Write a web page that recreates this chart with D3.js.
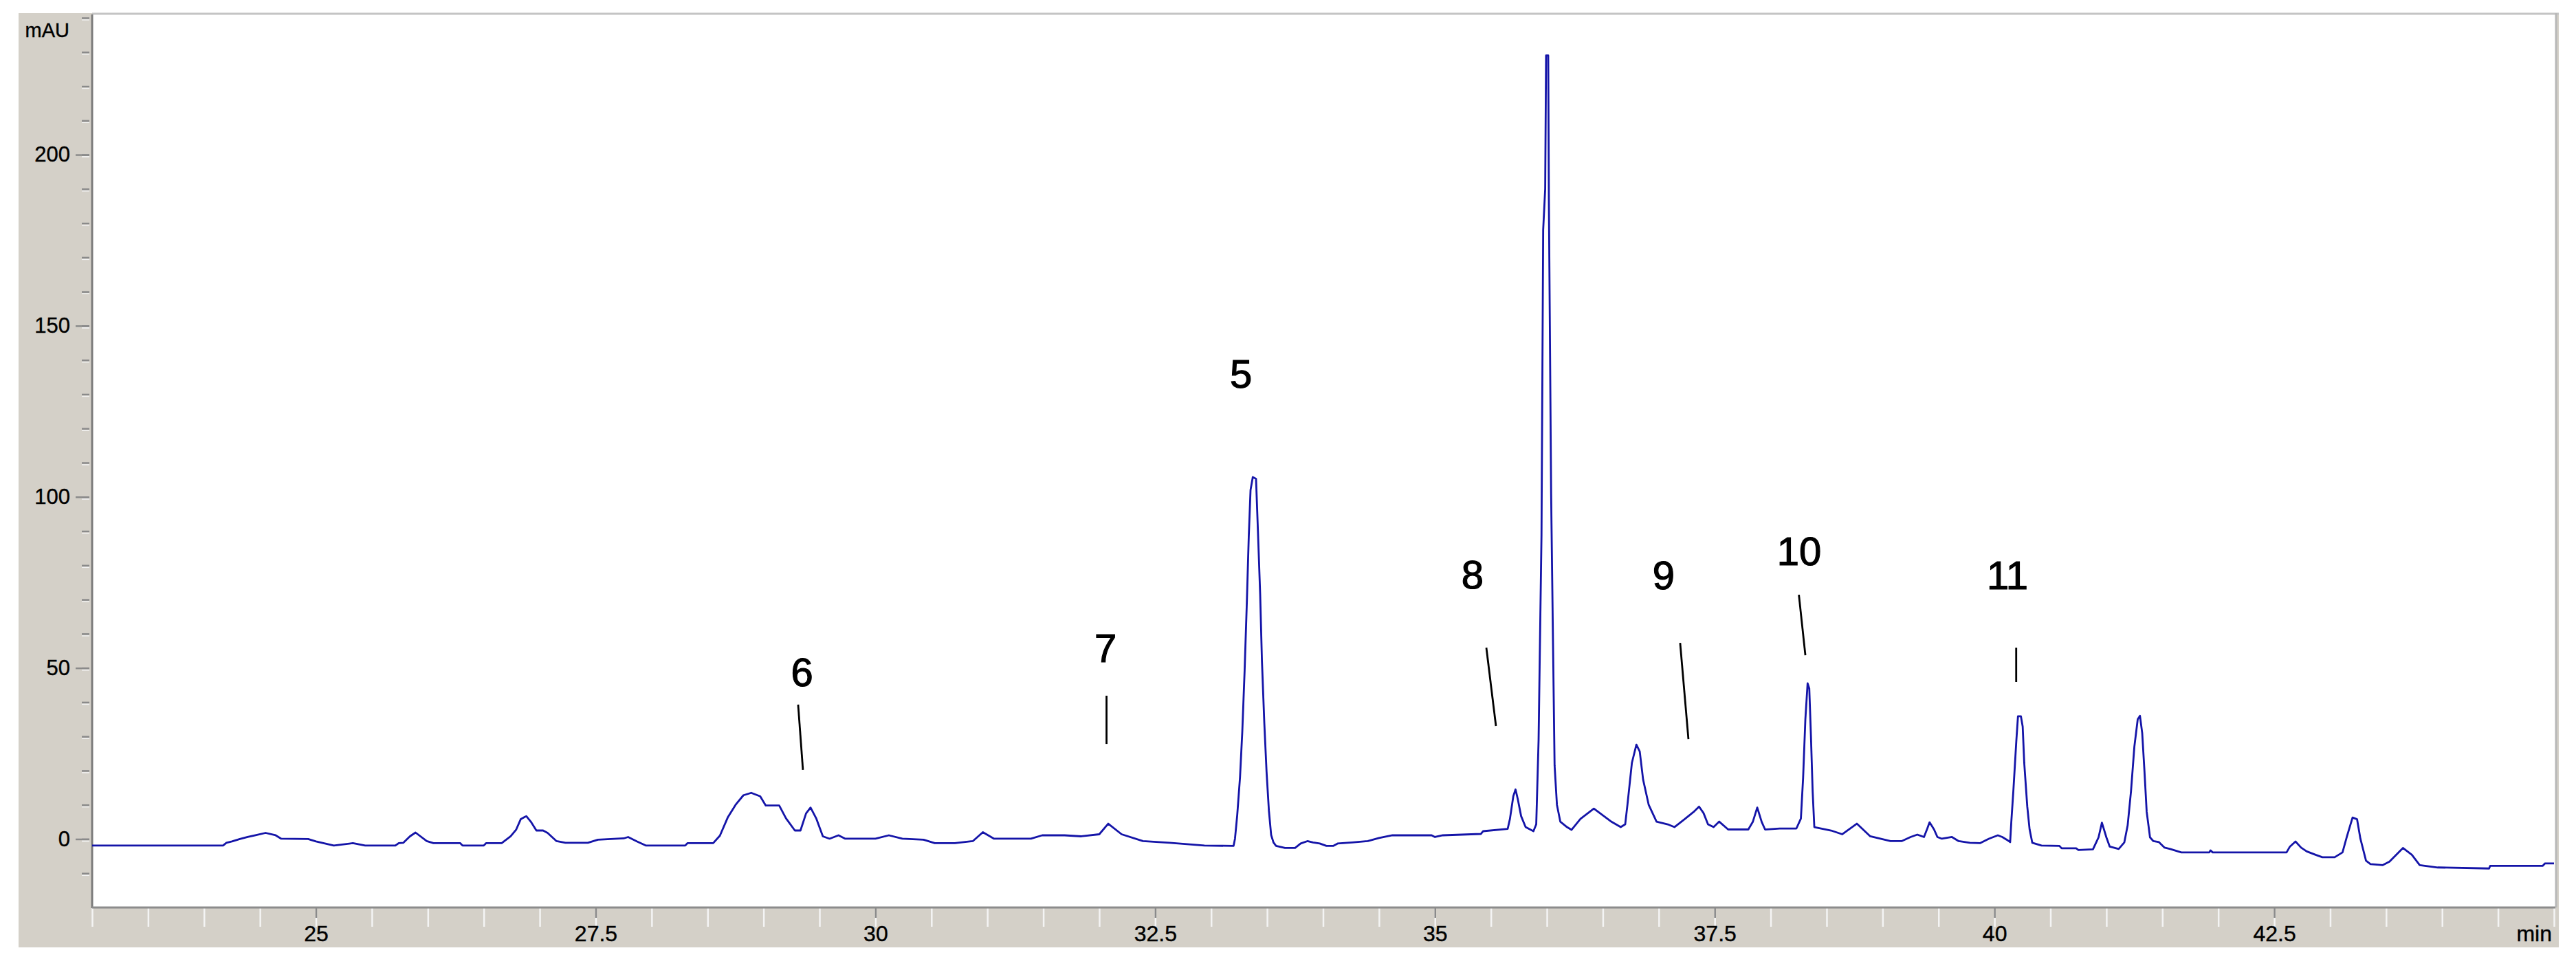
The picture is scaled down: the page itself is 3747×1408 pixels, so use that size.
<!DOCTYPE html>
<html><head><meta charset="utf-8">
<script src="https://cdn.jsdelivr.net/npm/d3@7"></script>
<style>
body{margin:0;background:#fff}
svg{display:block}
text{font-family:"Liberation Sans",Arial,sans-serif}
</style>
</head><body>
<svg id="chart" width="3747" height="1408"></svg>
<script>
// Retention time (min)
const time = [
23.00,24.17,24.20,24.25,24.32,24.39,24.46,24.55,24.64,24.69,24.93,25.00,25.16,25.33,25.44,25.71,25.74,25.78,25.84,25.89,
25.99,26.05,26.29,26.31,26.50,26.52,26.66,26.74,26.79,26.83,26.88,26.92,26.97,27.03,27.07,27.15,27.23,27.43,27.52,27.75,
27.79,27.87,27.95,28.30,28.32,28.55,28.61,28.68,28.75,28.82,28.89,28.97,29.02,29.14,29.20,29.28,29.33,29.38,29.42,29.47,
29.53,29.59,29.67,29.73,30.00,30.12,30.24,30.43,30.53,30.71,30.87,30.96,31.06,31.39,31.49,31.69,31.84,32.00,32.08,32.20,
32.39,32.63,32.94,33.20,33.213,33.233,33.258,33.278,33.299,33.319,33.336,33.352,33.372,33.401,33.418,33.438,33.454,33.475,33.495,33.516,
33.536,33.557,33.58,33.66,33.75,33.80,33.86,33.91,33.97,34.03,34.09,34.13,34.26,34.40,34.50,34.62,34.97,35.00,35.07,35.41,
35.43,35.65,35.67,35.70,35.72,35.74,35.77,35.81,35.88,35.905,35.926,35.952,35.967,35.985,35.993,36.012,36.018,36.038,36.055,36.069,
36.09,36.12,36.18,36.22,36.30,36.42,36.51,36.58,36.66,36.70,36.72,36.76,36.80,36.83,36.86,36.91,36.98,37.08,37.14,37.23,
37.31,37.36,37.40,37.44,37.49,37.54,37.62,37.80,37.84,37.88,37.92,37.95,38.08,38.23,38.27,38.29,38.31,38.33,38.345,38.36,
38.375,38.39,38.54,38.64,38.77,38.89,39.07,39.17,39.25,39.31,39.37,39.40,39.42,39.46,39.49,39.53,39.62,39.68,39.78,39.87,
39.95,40.03,40.07,40.11,40.14,40.15,40.17,40.195,40.21,40.236,40.252,40.266,40.293,40.314,40.338,40.42,40.58,40.60,40.73,40.75,
40.88,40.93,40.96,41.00,41.03,41.11,41.16,41.19,41.22,41.25,41.28,41.30,41.32,41.34,41.36,41.39,41.42,41.47,41.52,41.57,
41.67,41.92,41.93,41.95,42.61,42.64,42.69,42.74,42.79,42.87,42.93,43.04,43.11,43.15,43.20,43.24,43.27,43.32,43.36,43.47,
43.53,43.65,43.73,43.80,43.96,44.42,44.43,44.90,44.92,45.00
];
// Absorbance (mAU)
const absorbance = [
-1.9,-1.9,-1.1,-0.7,0.0,0.6,1.1,1.8,1.1,0.1,0.0,-0.7,-1.9,-1.2,-1.9,-1.9,-1.2,-1.1,0.8,1.9,
-0.6,-1.2,-1.2,-1.9,-1.9,-1.2,-1.2,0.8,2.8,5.8,6.7,5.1,2.5,2.5,1.8,-0.6,-1.1,-1.1,-0.2,0.2,
0.6,-0.7,-1.9,-1.9,-1.2,-1.2,1.0,6.3,10.0,12.8,13.5,12.5,9.8,9.8,6.1,2.5,2.5,7.5,9.2,6.1,
0.8,0.1,1.1,0.1,0.1,1.1,0.1,-0.2,-1.2,-1.2,-0.6,2.0,0.1,0.1,1.1,1.1,0.8,1.4,4.5,1.4,
-0.6,-1.1,-1.9,-2.0,0.1,7.0,18.1,31.2,49.2,69.3,88.4,102.0,105.8,105.3,90.0,71.5,51.9,33.9,19.7,8.3,
1.2,-1.0,-2.0,-2.6,-2.6,-1.3,-0.6,-1.0,-1.3,-2.0,-2.0,-1.3,-1.0,-0.6,0.3,1.1,1.1,0.6,1.1,1.5,
2.3,3.0,5.9,12.5,14.5,11.7,6.7,3.5,2.3,4.3,28.9,88.8,178,190,229,229,187,101,57,21.5,
10.0,5.1,3.5,2.7,5.9,8.9,6.7,5.0,3.5,4.3,10.0,22.3,27.6,25.6,17.4,10.0,5.1,4.3,3.5,5.8,
7.9,9.5,7.6,4.3,3.5,5.1,2.8,2.8,5.0,9.2,5.0,2.8,3.1,3.1,6.0,18.0,35.0,45.5,44.0,30.0,
14.0,3.5,2.5,1.4,4.5,0.8,-0.6,-0.6,0.6,1.3,0.6,3.1,4.9,2.8,0.6,0.1,0.6,-0.6,-1.1,-1.2,
0.1,1.1,0.6,-0.2,-0.9,4.8,14.8,28.6,35.9,35.9,32.9,22.2,9.5,2.8,-1.1,-1.9,-2.0,-2.7,-2.7,-3.2,
-3.0,0.5,4.8,0.5,-2.2,-2.9,-1.0,4.0,14.0,27.0,35.0,36.0,31.0,20.0,8.0,0.5,-0.6,-0.9,-2.5,-2.9,
-3.9,-3.9,-3.3,-3.9,-3.9,-2.2,-0.7,-2.5,-3.6,-4.6,-5.3,-5.3,-3.9,0.8,6.3,5.8,0.1,-6.3,-7.3,-7.6,
-6.6,-2.6,-4.6,-7.6,-8.3,-8.6,-7.8,-7.8,-7.1,-7.1
];
const xMajorTicks = [25, 27.5, 30, 32.5, 35, 37.5, 40, 42.5];
const xMinorTicks = d3.range(23, 45.01, 0.5);
const yMajorTicks = [0, 50, 100, 150, 200];
const yMinorTicks = d3.range(-10, 241, 10);
const xUnit = "min";
const yUnit = "mAU";
// Peak annotations (label text, label anchor in data units, leader line ends in data units)
const peakLabels   = ["6", "7", "5", "8", "9", "10", "11"];
const labelTime    = [29.344, 32.056, 33.266, 35.336, 37.044, 38.255, 40.116];
const labelValue   = [44.7, 51.7, 131.9, 73.2, 73.0, 80.1, 73.0];
const leaderTime0  = [29.309, 32.065, null, 35.459, 37.191, 38.252, 40.194];
const leaderValue0 = [39.3, 41.9, null, 55.95, 57.35, 71.4, 55.95];
const leaderTime1  = [29.352, 32.065, null, 35.545, 37.265, 38.310, 40.194];
const leaderValue1 = [20.2, 27.8, null, 33.04, 29.2, 53.7, 45.9];

const svg = d3.select("#chart");
const L = 134, R = 3715, T = 21, B = 1320;
const x = d3.scaleLinear().domain([23, 45]).range([L, R]);
const y = d3.scaleLinear().domain([-20, 241]).range([B, T]);

// frame
svg.append("rect").attr("x", 27).attr("y", 19).attr("width", 3695).attr("height", 1359).attr("fill", "#d4d0c8");
svg.append("rect").attr("x", L).attr("y", T).attr("width", R - L + 2).attr("height", B - T).attr("fill", "#ffffff");
svg.append("line").attr("x1", L).attr("x2", 3722).attr("y1", 20).attr("y2", 20).attr("stroke", "#c4c4c4").attr("stroke-width", 3);
svg.append("line").attr("x1", R + 3).attr("x2", R + 3).attr("y1", 19).attr("y2", B).attr("stroke", "#b8b8b8").attr("stroke-width", 3);

// clip
svg.append("defs").append("clipPath").attr("id", "plot").append("rect")
  .attr("x", L).attr("y", T).attr("width", R - L).attr("height", B - T);

// y axis
const yMinorG = svg.append("g").attr("transform", `translate(${L - 4},0)`)
  .call(d3.axisLeft(y).tickValues(yMinorTicks).tickSize(11).tickFormat(""));
const yMajorG = svg.append("g").attr("transform", `translate(${L - 4},0)`)
  .call(d3.axisLeft(y).tickValues(yMajorTicks).tickSize(20).tickPadding(8).tickFormat(d => d));
[yMinorG, yMajorG].forEach(g => {
  g.select(".domain").remove();
  g.selectAll(".tick line").attr("stroke", "#8a8a8a").attr("stroke-width", 2.5);
  g.selectAll(".tick").append("line").attr("x1", -11).attr("x2", 0).attr("y1", 2.5).attr("y2", 2.5)
    .attr("stroke", "#f2f2f2").attr("stroke-width", 1.5);
});
yMajorG.selectAll("text").attr("font-size", 31).attr("fill", "#000")
  .attr("stroke", "#000").attr("stroke-width", 0.4).attr("font-family", "Liberation Sans, Arial, sans-serif");

// x axis
const xMinorG = svg.append("g").attr("transform", `translate(0,${B + 1})`)
  .call(d3.axisBottom(x).tickValues(xMinorTicks).tickSize(27).tickFormat(""));
xMinorG.select(".domain").remove();
xMinorG.selectAll(".tick line").attr("stroke", "#f4f4f4").attr("stroke-width", 2.5);
const xMajorG = svg.append("g").attr("transform", `translate(0,${B + 1})`)
  .call(d3.axisBottom(x).tickValues(xMajorTicks).tickSize(14).tickPadding(11).tickFormat(d => d));
xMajorG.select(".domain").remove();
xMajorG.selectAll(".tick line").attr("stroke", "#8a8a8a").attr("stroke-width", 2.5);
xMajorG.selectAll("text").attr("font-size", 32).attr("fill", "#000")
  .attr("stroke", "#000").attr("stroke-width", 0.4).attr("font-family", "Liberation Sans, Arial, sans-serif");

// axis lines
svg.append("line").attr("x1", L).attr("x2", L).attr("y1", T).attr("y2", B + 1).attr("stroke", "#7c7c7c").attr("stroke-width", 3);
svg.append("line").attr("x1", L).attr("x2", R + 2).attr("y1", B).attr("y2", B).attr("stroke", "#8c8c8c").attr("stroke-width", 3);

// unit labels
svg.append("text").attr("x", 101).attr("y", 54).attr("text-anchor", "end").attr("font-size", 29).attr("fill", "#000")
  .attr("stroke", "#000").attr("stroke-width", 0.4).text(yUnit);
svg.append("text").attr("x", 3712).attr("y", 1369).attr("text-anchor", "end").attr("font-size", 32).attr("fill", "#000")
  .attr("stroke", "#000").attr("stroke-width", 0.4).text(xUnit);

// trace
const pts = time.map((t, i) => [t, absorbance[i]]);
svg.append("path").datum(pts)
  .attr("clip-path", "url(#plot)")
  .attr("fill", "none").attr("stroke", "#1414a8").attr("stroke-width", 2.8).attr("stroke-linejoin", "round")
  .attr("d", d3.line().x(d => x(d[0])).y(d => y(d[1])));

// annotations
const ann = svg.append("g");
peakLabels.forEach((lab, i) => {
  ann.append("text").attr("x", x(labelTime[i])).attr("y", y(labelValue[i]))
    .attr("text-anchor", "middle").attr("font-size", 58).attr("fill", "#000")
    .attr("stroke", "#000").attr("stroke-width", 1.2).text(lab);
  if (leaderTime0[i] !== null) {
    ann.append("line")
      .attr("x1", x(leaderTime0[i])).attr("y1", y(leaderValue0[i]))
      .attr("x2", x(leaderTime1[i])).attr("y2", y(leaderValue1[i]))
      .attr("stroke", "#000").attr("stroke-width", 2.8);
  }
});
</script>
</body></html>
